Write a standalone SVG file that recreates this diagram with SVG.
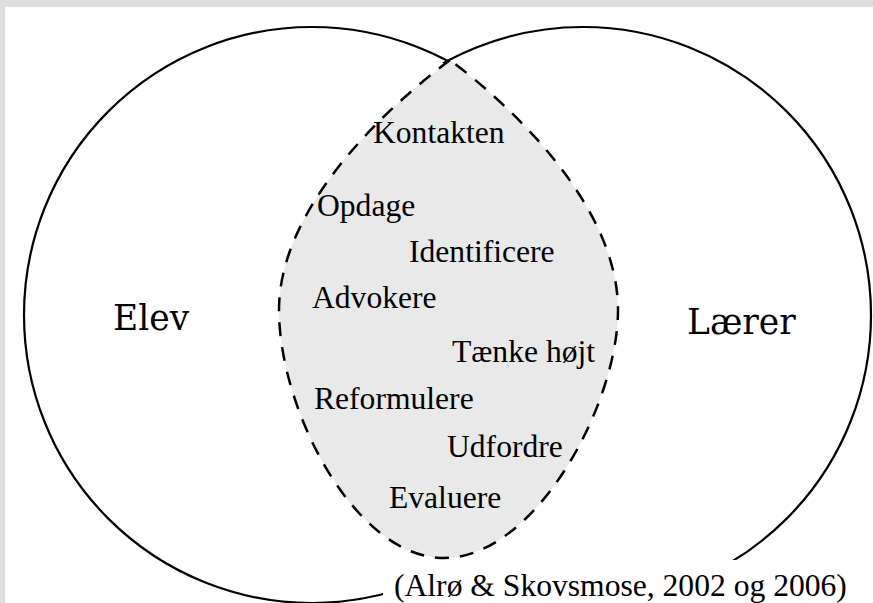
<svg xmlns="http://www.w3.org/2000/svg" width="873" height="603" viewBox="0 0 873 603">
  <style>
    .circle { fill: none; stroke: #000; stroke-width: 2.2; }
    .lens { fill: #e9e9e9; stroke: #000; stroke-width: 2.5; stroke-dasharray: 14 11; }
    .item { font-family: "Liberation Serif", "Times New Roman", serif; font-size: 31.6px; fill: #000; }
    .side { font-family: "DejaVu Serif", serif; font-size: 34.5px; fill: #000; }
  </style>
  <defs>
    <mask id="outsideRight" maskUnits="userSpaceOnUse" x="0" y="0" width="873" height="603">
      <rect x="0" y="0" width="873" height="603" fill="#fff"/>
      <circle cx="583" cy="315" r="284" fill="#000"/>
    </mask>
    <mask id="outsideLeft" maskUnits="userSpaceOnUse" x="0" y="0" width="873" height="603">
      <rect x="0" y="0" width="873" height="603" fill="#fff"/>
      <circle cx="312" cy="315" r="284" fill="#000"/>
    </mask>
  </defs>
  <rect x="0" y="0" width="873" height="603" fill="#dedede"/>
  <rect x="5" y="7" width="868" height="596" fill="#ffffff"/>

  <g id="elev">
    <circle class="circle" cx="312" cy="315" r="288" mask="url(#outsideRight)"/>
    <text class="side" x="113" y="330">Elev</text>
  </g>
  <g id="laerer">
    <circle class="circle" cx="583" cy="315" r="288" mask="url(#outsideLeft)"/>
    <text class="side" x="687" y="334">Lærer</text>
  </g>

  <g id="overlap">
    <path class="lens" d="M450,60 C390,105 279,205 279,310 C279,410 355,558 444,558 C535,558 618,405 618,310 C618,205 510,105 450,60 Z"/>
    <text class="item" x="373" y="143">Kontakten</text>
    <text class="item" x="317" y="216">Opdage</text>
    <text class="item" x="409" y="262">Identificere</text>
    <text class="item" x="312" y="308">Advokere</text>
    <text class="item" x="452" y="362">Tænke højt</text>
    <text class="item" x="314" y="409">Reformulere</text>
    <text class="item" x="447" y="457">Udfordre</text>
    <text class="item" x="389" y="508">Evaluere</text>
  </g>

  <g id="citation">
    <rect x="383" y="560" width="490" height="43" fill="#ffffff"/>
    <text class="item" x="394" y="596">(Alrø &amp; Skovsmose, 2002 og 2006)</text>
  </g>
</svg>
